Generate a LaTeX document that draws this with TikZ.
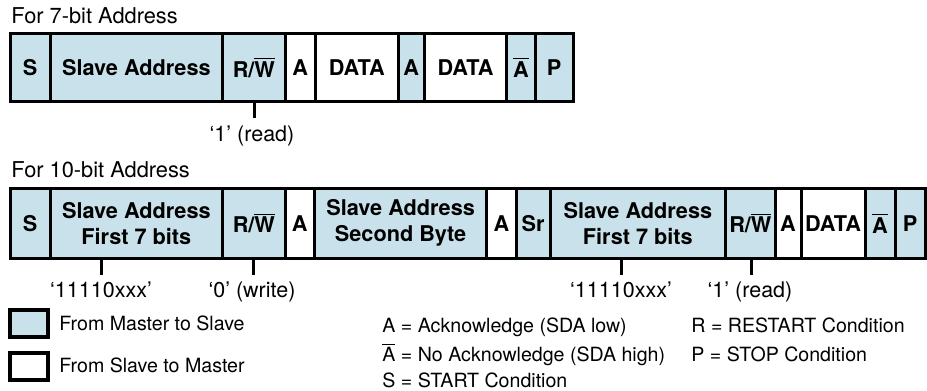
\documentclass[tikz,border=0pt]{standalone}
\usepackage{fontspec}
\setmainfont{TeX Gyre Heros}
\definecolor{mblue}{RGB}{201,225,234}
\newcommand{\ovl}[1]{$\overline{\mbox{#1}}$}
% name, style, left, right, text
\newcommand{\cellA}[5]{\node[#2, minimum width={(#4-#3)*0.5pt}, minimum height=34.25pt] (#1) at ({(#3+#4)/2},67.25) {#5};}
\newcommand{\cellB}[5]{\node[#2, minimum width={(#4-#3)*0.5pt}, minimum height=35.15pt] (#1) at ({(#3+#4)/2},223.15) {#5};}
\begin{document}
\begin{tikzpicture}[x=0.5pt,y=-0.5pt,
  cell/.style={draw=black, line width=1.5pt, inner sep=0pt, align=center,
    font=\fontsize{10.85}{13}\selectfont\bfseries},
  ms/.style={cell, fill=mblue},
  sm/.style={cell, fill=white},
  tick/.style={line width=1.5pt},
  lbl/.style={inner sep=0pt, anchor=base, font=\fontsize{10.75}{12.6}\selectfont},
  ttl/.style={inner sep=0pt, anchor=base west, font=\fontsize{10.9}{12.6}\selectfont},
  legtxt/.style={inner sep=0pt, anchor=base west, font=\fontsize{9.8}{11.8}\selectfont},
  legbox/.style={draw=black, line width=1.8pt, minimum width=18.85pt, minimum height=13.35pt, inner sep=0pt}]
\useasboundingbox (0,0) rectangle (927,391);

% 7-bit
\node[ttl] (t1) at (11,24) {For 7-bit Address};
\cellA{a1}{ms}{10}{50}{S}
\cellA{a2}{ms}{50}{222.7}{Slave Address}
\cellA{a3}{ms}{222.7}{285}{R/\ovl{W}}
\cellA{a4}{sm}{285}{315.5}{A}
\cellA{a5}{sm}{315.5}{398}{DATA}
\cellA{a6}{ms}{398}{424.3}{A}
\cellA{a7}{sm}{424.3}{506.7}{DATA}
\cellA{a8}{ms}{506.7}{535}{\ovl{A}}
\cellA{a9}{ms}{535}{573.3}{P}
\coordinate (k1) at (254,118);
\draw[tick] (a3.south -| k1) -- (k1);
\node[lbl] (l1) at (252,141) {‘1’ (read)};

% 10-bit
\node[ttl] (t2) at (11,177) {For 10-bit Address};
\cellB{b1}{ms}{10}{50}{S}
\cellB{b2}{ms}{50}{222.7}{Slave Address\\First 7 bits}
\cellB{b3}{ms}{222.7}{285}{R/\ovl{W}}
\cellB{b4}{sm}{285}{314.5}{A}
\cellB{b5}{ms}{314.5}{486.7}{Slave Address\\Second Byte}
\cellB{b6}{sm}{486.7}{516}{A}
\cellB{b7}{ms}{516}{550}{Sr}
\cellB{b8}{ms}{550}{725.7}{Slave Address\\First 7 bits}
\cellB{b9}{ms}{725.7}{775}{R/\ovl{W}}
\cellB{b10}{sm}{775}{801}{A}
\cellB{b11}{sm}{801}{865}{DATA}
\cellB{b12}{ms}{865}{895}{\ovl{A}}
\cellB{b13}{ms}{895}{925}{P}

\coordinate (k2) at (101,275);
\coordinate (k3) at (253,275);
\coordinate (k4) at (621,275);
\coordinate (k5) at (751.5,275);
\draw[tick] (b2.south -| k2) -- (k2);
\draw[tick] (b3.south -| k3) -- (k3);
\draw[tick] (b8.south -| k4) -- (k4);
\draw[tick] (b9.south -| k5) -- (k5);
\node[lbl] (l2) at (101,297.5) {‘11110xxx’};
\node[lbl] (l3) at (252,297.5) {‘0’ (write)};
\node[lbl] (l4) at (621,297.5) {‘11110xxx’};
\node[lbl] (l5) at (750,297.5) {‘1’ (read)};

% legend
\node[legbox, fill=mblue] (m1) at (28.85,323.35) {};
\node[legbox, fill=white] (m2) at (28.85,366.5) {};
\node[legtxt] (m1t) at (59,330.7) {From Master to Slave};
\node[legtxt] (m2t) at (59,372.7) {From Slave to Master};

\node[legtxt] (d1) at (382,332) {A = Acknowledge (SDA low)};
\node[legtxt] (d2) at (382,361) {\ovl{A} = No Acknowledge (SDA high)};
\node[legtxt] (d3) at (382,387) {S = START Condition};
\node[legtxt] (d4) at (691,332) {R = RESTART Condition};
\node[legtxt] (d5) at (691,361) {P = STOP Condition};
\end{tikzpicture}
\end{document}
